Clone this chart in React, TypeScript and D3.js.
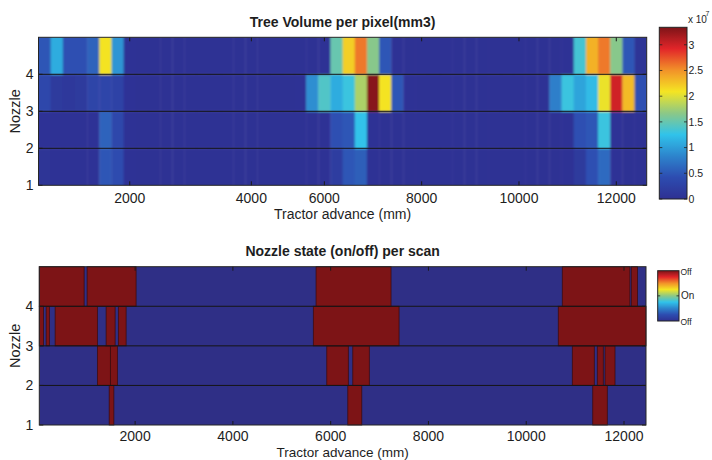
import React from 'react';
import * as d3 from 'd3';

// ---------- DATA ----------
const nozzleIds = [1, 2, 3, 4];
// Tree volume per pixel (x 10^7 mm3), one value per scan column (50 columns)
const volumeNozzle1 = [0.06, 0.04, 0.04, 0.04, 0.05, 0.5, 0.4, 0.04, 0.03, 0.03,
  0.03, 0.03, 0.03, 0.03, 0.03, 0.03, 0.03, 0.03, 0.03, 0.03,
  0.03, 0.03, 0.03, 0.04, 0.2, 0.5, 0.55, 0.04, 0.03, 0.03,
  0.03, 0.03, 0.03, 0.03, 0.03, 0.03, 0.03, 0.03, 0.03, 0.03,
  0.03, 0.03, 0.03, 0.04, 0.15, 0.45, 0.65, 0.05, 0.03, 0.03];
const volumeNozzle2 = [0.05, 0.04, 0.04, 0.04, 0.05, 0.6, 0.35, 0.04, 0.03, 0.03,
  0.03, 0.03, 0.03, 0.03, 0.03, 0.03, 0.03, 0.03, 0.03, 0.03,
  0.03, 0.03, 0.03, 0.04, 0.45, 0.5, 1.25, 0.04, 0.03, 0.03,
  0.03, 0.03, 0.03, 0.03, 0.03, 0.03, 0.03, 0.03, 0.03, 0.03,
  0.03, 0.03, 0.03, 0.04, 0.45, 0.5, 1.3, 0.05, 0.03, 0.03];
const volumeNozzle3 = [0.35, 0.15, 0.12, 0.15, 0.3, 0.32, 0.28, 0.05, 0.03, 0.03,
  0.03, 0.03, 0.03, 0.03, 0.03, 0.03, 0.03, 0.03, 0.03, 0.03,
  0.03, 0.04, 0.9, 1.4, 1.1, 1.3, 1.8, 3.3, 2.1, 0.5,
  0.04, 0.03, 0.03, 0.03, 0.03, 0.03, 0.03, 0.03, 0.03, 0.03,
  0.03, 0.04, 0.8, 1.3, 1.05, 1.2, 2.05, 3.0, 2.3, 0.45];
const volumeNozzle4 = [0.5, 1.1, 0.45, 0.45, 0.6, 2.1, 0.95, 0.04, 0.03, 0.03,
  0.03, 0.03, 0.03, 0.03, 0.03, 0.03, 0.03, 0.03, 0.03, 0.03,
  0.03, 0.03, 0.03, 0.04, 1.5, 2.2, 2.6, 1.65, 0.5, 0.04,
  0.03, 0.03, 0.03, 0.03, 0.03, 0.03, 0.03, 0.03, 0.03, 0.03,
  0.03, 0.03, 0.03, 0.04, 1.35, 2.35, 2.6, 1.65, 0.5, 0.06];
const volumeRows = [volumeNozzle1, volumeNozzle2, volumeNozzle3, volumeNozzle4];
const volumeMax = 3.34;
const scanTickColumns = [8, 18, 24, 32, 40, 48];
const scanTickLabels = ['2000', '4000', '6000', '8000', '10000', '12000'];
const colorbarTicks = [0, 0.5, 1, 1.5, 2, 2.5, 3];

// Nozzle state: intervals (mm of tractor advance) when the nozzle is on
const advanceDomain = [40, 12450];
const advanceTicks = [2000, 4000, 6000, 8000, 10000, 12000];
const stateNozzle1 = [[1470, 1565], [6350, 6636], [11360, 11659]];
const stateNozzle2 = [[1229, 1495], [1495, 1638], [5920, 6362], [6452, 6791], [10943, 11393], [11454, 11577], [11612, 11816]];
const stateNozzle3 = [[40, 125], [180, 247], [364, 1229], [1407, 1591], [1658, 1816], [5646, 7399], [10656, 12450]];
const stateNozzle4 = [[40, 957], [1018, 2020], [5701, 7235], [10738, 12120], [12150, 12276]];
const stateRows = [stateNozzle1, stateNozzle2, stateNozzle3, stateNozzle4];
const stateLabels = ['Off', 'On', 'Off'];

// ---------- STYLE ----------
const jetStops = [0, 0.125, 0.25, 0.375, 0.5, 0.625, 0.75, 0.875, 1];
const jetColors = ['#2e3092', '#2d4cb0', '#2d84cc', '#30c3ea', '#8cc886', '#f4e523', '#f29229', '#e22529', '#7d1418'];
const jet = d3.scaleLinear<string>().domain(jetStops).range(jetColors).interpolate(d3.interpolateRgb).clamp(true);
const FONT = '"Liberation Sans", Arial, Helvetica, sans-serif';
const TXT = '#1e1e1e';
const BLUE = '#2f2f86';
const RED = '#7d1416';

const W = 712, H = 460;
const top = { x0: 38.5, x1: 646.7, y0: 37.3, y1: 185.3 };
const bot = { x0: 39.3, x1: 646, y0: 266.7, y1: 425 };
const cbTop = { x0: 659.3, x1: 687, y0: 27.3, y1: 199 };
const cbBot = { x0: 657.7, x1: 679, y0: 270.7, y1: 321 };

export default function App() {
  const nCols = volumeNozzle1.length;
  const xTop = d3.scaleLinear().domain([0.5, nCols + 0.5]).range([top.x0, top.x1]);
  const yTop = d3.scaleLinear().domain([1, 5]).range([top.y1, top.y0]);
  const xBot = d3.scaleLinear().domain(advanceDomain).range([bot.x0, bot.x1]);
  const yBot = d3.scaleLinear().domain([1, 5]).range([bot.y1, bot.y0]);
  const yCb = d3.scaleLinear().domain([0, volumeMax]).range([cbTop.y1, cbTop.y0]);
  const yCbState = d3.scaleLinear().domain([0, 2]).range([cbBot.y1, cbBot.y0]);

  const cells = volumeRows.flatMap((row, ri) => row.map((v, ci) => ({ nozzle: nozzleIds[ri], col: ci + 1, v })));
  const gradStops = d3.range(0, 1.0001, 1 / 64);

  const yTicks = [1, 2, 3, 4];
  const gridY = [2, 3, 4];

  const axisFrame = (p: any, xs: number[], ys: number[], yScale: any) => (
    <g>
      {gridY.map((g) => (
        <line key={'g' + g} x1={p.x0} x2={p.x1} y1={yScale(g)} y2={yScale(g)} stroke="#151515" strokeWidth={1} />
      ))}
      {xs.map((x, i) => (
        <g key={'xt' + i}>
          <line x1={x} x2={x} y1={p.y0} y2={p.y0 + 4} stroke="#1a1a1a" strokeWidth={1} />
          <line x1={x} x2={x} y1={p.y1} y2={p.y1 - 4} stroke="#1a1a1a" strokeWidth={1} />
        </g>
      ))}
      {ys.map((y, i) => (
        <g key={'yt' + i}>
          <line x1={p.x0} x2={p.x0 + 4} y1={y} y2={y} stroke="#1a1a1a" strokeWidth={1} />
          <line x1={p.x1} x2={p.x1 - 4} y1={y} y2={y} stroke="#1a1a1a" strokeWidth={1} />
        </g>
      ))}
      <rect x={p.x0} y={p.y0} width={p.x1 - p.x0} height={p.y1 - p.y0} fill="none" stroke="#262626" strokeWidth={1} />
    </g>
  );

  return (
    <svg width={W} height={H} style={{ position: 'absolute', left: 0, top: 0, background: '#fff' }} fontFamily={FONT}>
      <defs>
        <clipPath id="clipTop">
          <rect x={top.x0} y={top.y0} width={top.x1 - top.x0} height={top.y1 - top.y0} />
        </clipPath>
        <filter id="soft" x="-5%" y="-5%" width="110%" height="110%">
          <feGaussianBlur stdDeviation="0.9" />
        </filter>
        <linearGradient id="jetGrad" x1="0" y1="1" x2="0" y2="0">
          {gradStops.map((t, i) => (
            <stop key={i} offset={t} stopColor={jet(t)} />
          ))}
        </linearGradient>
      </defs>

      {/* ---------- TOP: tree volume heat map ---------- */}
      <text x={(top.x0 + top.x1) / 2} y={top.y0 - 10.3} textAnchor="middle" fontSize={14} fontWeight="bold" fill={TXT}>
        Tree Volume per pixel(mm3)
      </text>
      <g clipPath="url(#clipTop)">
        <g filter="url(#soft)">
          {cells.map((c) => {
            let x = xTop(c.col - 0.5);
            let w = xTop(c.col + 0.5) - x + 0.4;
            let y = yTop(c.nozzle + 1);
            let h = yTop(c.nozzle) - y + 0.4;
            if (c.col === 1) { x -= 4; w += 4; }
            if (c.col === nCols) { w += 4; }
            if (c.nozzle === 4) { y -= 4; h += 4; }
            if (c.nozzle === 1) { h += 4; }
            return <rect key={c.nozzle + '-' + c.col} x={x} y={y} width={w} height={h} fill={jet(c.v / volumeMax)} />;
          })}
        </g>
      </g>
      {axisFrame(top, scanTickColumns.map((c) => xTop(c)), yTicks.map((t) => yTop(t)), yTop)}
      {scanTickColumns.map((c, i) => (
        <text key={'xl' + i} x={xTop(c)} y={top.y1 + 17.5} textAnchor="middle" fontSize={14} fill={TXT}>
          {scanTickLabels[i]}
        </text>
      ))}
      {yTicks.map((t) => (
        <text key={'yl' + t} x={top.x0 - 5} y={yTop(t)} dy="0.36em" textAnchor="end" fontSize={14} fill={TXT}>
          {t}
        </text>
      ))}
      <text x={(top.x0 + top.x1) / 2} y={top.y1 + 33.5} textAnchor="middle" fontSize={14} fill={TXT}>
        Tractor advance (mm)
      </text>
      <text transform={`translate(20,${(top.y0 + top.y1) / 2}) rotate(-90)`} textAnchor="middle" fontSize={14.5} fill={TXT}>
        Nozzle
      </text>

      {/* top colorbar */}
      <rect x={cbTop.x0} y={cbTop.y0} width={cbTop.x1 - cbTop.x0} height={cbTop.y1 - cbTop.y0} fill="url(#jetGrad)" stroke="#222" strokeWidth={1} />
      {colorbarTicks.map((t) => (
        <g key={'cb' + t}>
          <line x1={cbTop.x0} x2={cbTop.x0 + 3} y1={yCb(t)} y2={yCb(t)} stroke="#222" strokeWidth={0.8} />
          <line x1={cbTop.x1} x2={cbTop.x1 - 3} y1={yCb(t)} y2={yCb(t)} stroke="#222" strokeWidth={0.8} />
          <text x={cbTop.x1 + 1.5} y={yCb(t)} dy="0.36em" fontSize={10.5} fill={TXT}>{t}</text>
        </g>
      ))}
      <text x={cbTop.x1 + 1} y={22.7} fontSize={10} fill={TXT}>x 10</text>
      <text x={cbTop.x1 + 18.5} y={16} fontSize={7} fill={TXT}>7</text>

      {/* ---------- BOTTOM: nozzle state ---------- */}
      <text x={(bot.x0 + bot.x1) / 2} y={bot.y0 - 11} textAnchor="middle" fontSize={14} fontWeight="bold" fill={TXT}>
        Nozzle state (on/off) per scan
      </text>
      <rect x={bot.x0} y={bot.y0} width={bot.x1 - bot.x0} height={bot.y1 - bot.y0} fill={BLUE} />
      {stateRows.map((row, ri) =>
        row.map(([a, b], k) => (
          <rect key={ri + '-' + k} x={xBot(a)} y={yBot(nozzleIds[ri] + 1)} width={xBot(b) - xBot(a)}
            height={yBot(nozzleIds[ri]) - yBot(nozzleIds[ri] + 1)} fill={RED} stroke="#3a0a0d" strokeWidth={0.9} strokeOpacity={0.8} />
        ))
      )}
      {axisFrame(bot, advanceTicks.map((t) => xBot(t)), yTicks.map((t) => yBot(t)), yBot)}
      {advanceTicks.map((t) => (
        <text key={'bxl' + t} x={xBot(t)} y={bot.y1 + 16.3} textAnchor="middle" fontSize={14} fill={TXT}>
          {t}
        </text>
      ))}
      {yTicks.map((t) => (
        <text key={'byl' + t} x={bot.x0 - 6} y={yBot(t)} dy="0.36em" textAnchor="end" fontSize={14} fill={TXT}>
          {t}
        </text>
      ))}
      <text x={(bot.x0 + bot.x1) / 2} y={bot.y1 + 32} textAnchor="middle" fontSize={13.5} fill={TXT}>
        Tractor advance (mm)
      </text>
      <text transform={`translate(20,${(bot.y0 + bot.y1) / 2}) rotate(-90)`} textAnchor="middle" fontSize={14.5} fill={TXT}>
        Nozzle
      </text>

      {/* bottom colorbar */}
      <rect x={cbBot.x0} y={cbBot.y0} width={cbBot.x1 - cbBot.x0} height={cbBot.y1 - cbBot.y0} fill="url(#jetGrad)" stroke="#222" strokeWidth={1} />
      {stateLabels.map((lab, i) => (
        <g key={'sl' + i}>
          {i === 1 && (
            <g>
              <line x1={cbBot.x0} x2={cbBot.x0 + 2.5} y1={yCbState(i)} y2={yCbState(i)} stroke="#222" strokeWidth={0.8} />
              <line x1={cbBot.x1} x2={cbBot.x1 - 2.5} y1={yCbState(i)} y2={yCbState(i)} stroke="#222" strokeWidth={0.8} />
            </g>
          )}
          <text x={cbBot.x1 + (i === 1 ? 2 : 1.5)} y={yCbState(i) + (i === 0 ? 0.8 : i === 2 ? 1.2 : 0)} dy="0.36em"
            fontSize={i === 1 ? 10 : 8.5} fill={TXT}>{lab}</text>
        </g>
      ))}
    </svg>
  );
}
